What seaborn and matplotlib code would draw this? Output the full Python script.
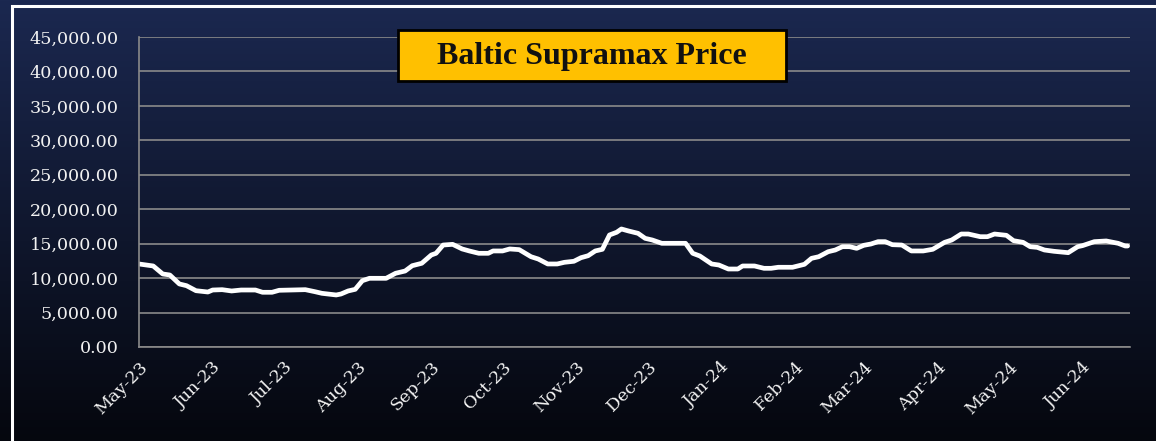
# Baltic Supramax Price - line chart on a dark gradient background

import numpy as np
import pandas as pd
import matplotlib.pyplot as plt
import matplotlib.dates as mdates
from matplotlib.patches import Rectangle
import seaborn as sns

# ============================================================
# Data
# ============================================================
dates = [
    "2023-05-01", "2023-05-07", "2023-05-11", "2023-05-14", "2023-05-18", "2023-05-21",
    "2023-05-25", "2023-05-30", "2023-06-01", "2023-06-05", "2023-06-09", "2023-06-13",
    "2023-06-19", "2023-06-22", "2023-06-26", "2023-06-29", "2023-07-04", "2023-07-10",
    "2023-07-14", "2023-07-17", "2023-07-23", "2023-07-25", "2023-07-28", "2023-07-31",
    "2023-08-03", "2023-08-06", "2023-08-13", "2023-08-17", "2023-08-21", "2023-08-24",
    "2023-08-28", "2023-09-01", "2023-09-03", "2023-09-06", "2023-09-10", "2023-09-14",
    "2023-09-17", "2023-09-21", "2023-09-25", "2023-09-27", "2023-10-01", "2023-10-04",
    "2023-10-08", "2023-10-13", "2023-10-16", "2023-10-20", "2023-10-24", "2023-10-27",
    "2023-10-31", "2023-11-03", "2023-11-06", "2023-11-09", "2023-11-12", "2023-11-15",
    "2023-11-18", "2023-11-20", "2023-11-23", "2023-11-27", "2023-11-30", "2023-12-03",
    "2023-12-07", "2023-12-17", "2023-12-20", "2023-12-23", "2023-12-28", "2023-12-31",
    "2024-01-04", "2024-01-08", "2024-01-10", "2024-01-15", "2024-01-19", "2024-01-22",
    "2024-01-25", "2024-01-31", "2024-02-05", "2024-02-08", "2024-02-11", "2024-02-15",
    "2024-02-18", "2024-02-21", "2024-02-24", "2024-02-27", "2024-03-01", "2024-03-04",
    "2024-03-07", "2024-03-10", "2024-03-13", "2024-03-17", "2024-03-21", "2024-03-26",
    "2024-03-30", "2024-04-04", "2024-04-07", "2024-04-11", "2024-04-14", "2024-04-19",
    "2024-04-22", "2024-04-25", "2024-04-30", "2024-05-03", "2024-05-07", "2024-05-10",
    "2024-05-13", "2024-05-16", "2024-05-20", "2024-05-26", "2024-05-30", "2024-06-01",
    "2024-06-06", "2024-06-11", "2024-06-16", "2024-06-19", "2024-06-20",
]
prices = [
    12050, 11760, 10600, 10450, 9150, 8900,
    8170, 7980, 8270, 8320, 8130, 8270,
    8270, 7940, 7940, 8230, 8270, 8320,
    8030, 7790, 7550, 7690, 8130, 8370,
    9620, 9970, 9970, 10700, 11030, 11800,
    12150, 13350, 13600, 14800, 14900, 14230,
    13940, 13600, 13600, 13940, 13940, 14230,
    14130, 13100, 12770, 12050, 12050, 12290,
    12440, 12960, 13250, 13940, 14180, 16260,
    16650, 17130, 16840, 16500, 15770, 15530,
    15050, 15050, 13600, 13210, 12050, 11900,
    11320, 11320, 11760, 11760, 11420, 11420,
    11570, 11570, 12000, 12870, 13100, 13830,
    14080, 14560, 14560, 14320, 14760, 14950,
    15290, 15290, 14850, 14800, 13940, 13940,
    14180, 15190, 15530, 16400, 16400, 16010,
    16010, 16400, 16210, 15430, 15190, 14560,
    14460, 14080, 13890, 13690, 14560, 14710,
    15290, 15390, 15050, 14660, 14660,
]
y_ticks = [0, 5000, 10000, 15000, 20000, 25000, 30000, 35000, 40000, 45000]
TITLE = "Baltic Supramax Price"

df = pd.DataFrame({"date": pd.to_datetime(dates), "price": prices})

# ============================================================
# Style
# ============================================================
sns.set_style("dark")
plt.rcParams['font.family'] = ['DejaVu Serif']
TXT = '#f2f2f2'
GRID = '#8a8a8a'

fig = plt.figure(figsize=(11.56, 4.41), dpi=100)

# background gradient (navy top -> almost black bottom)
bg = fig.add_axes([0, 0, 1, 1], zorder=0)
top = np.array([27, 40, 80]) / 255
bot = np.array([5, 7, 14]) / 255
t = np.linspace(0, 1, 256)[:, None]
grad = (top * (1 - t) + bot * t)[:, None, :]
bg.imshow(grad, aspect='auto', extent=[0, 1, 0, 1])
bg.set_axis_off()

# white frame, running off the right and bottom edges
fig.patches.append(Rectangle((0.0108, -0.2), 1.5, 1.186, transform=fig.transFigure,
                             fill=False, edgecolor='white', linewidth=2.2, zorder=1))

ax = fig.add_axes([0.1202, 0.2132, 0.8573, 0.7029], zorder=2)
ax.set_facecolor('none')

sns.lineplot(data=df, x="date", y="price", ax=ax, color='white', linewidth=3.4)

# ============================================================
# Axes
# ============================================================
ax.set_ylim(0, 45000)
ax.set_xlim(pd.Timestamp("2023-05-01"), pd.Timestamp("2024-06-21"))
ax.set_yticks(y_ticks)
ax.set_yticklabels([f"{v:,.2f}" for v in y_ticks])
ax.xaxis.set_major_locator(mdates.MonthLocator())
ax.xaxis.set_major_formatter(mdates.DateFormatter('%b-%y'))
plt.setp(ax.get_xticklabels(), rotation=45, ha='right', rotation_mode='anchor')

ax.grid(axis='y', color=GRID, linewidth=1.2)
ax.grid(axis='x', visible=False)
for side in ['top', 'right']:
    ax.spines[side].set_visible(False)
for side in ['left', 'bottom']:
    ax.spines[side].set_color(GRID)
    ax.spines[side].set_linewidth(1.2)
ax.tick_params(axis='both', colors=GRID, labelcolor=TXT, labelsize=12.6,
               length=4.5, width=1.2, direction='out')
ax.tick_params(axis='y', pad=10)
ax.tick_params(axis='x', pad=4)
ax.set_xlabel("")
ax.set_ylabel("")

# title box
ax.add_patch(Rectangle((0.261, 0.858), 0.392, 0.165, transform=ax.transAxes,
                       facecolor='#FFC000', edgecolor='black', linewidth=2,
                       clip_on=False, zorder=5))
ax.text(0.457, 0.936, TITLE, transform=ax.transAxes, ha='center', va='center',
        fontsize=23, fontweight='bold', color='#111111', zorder=6,
        family=['Liberation Serif', 'DejaVu Serif'])

plt.savefig("out.png", dpi=100)
